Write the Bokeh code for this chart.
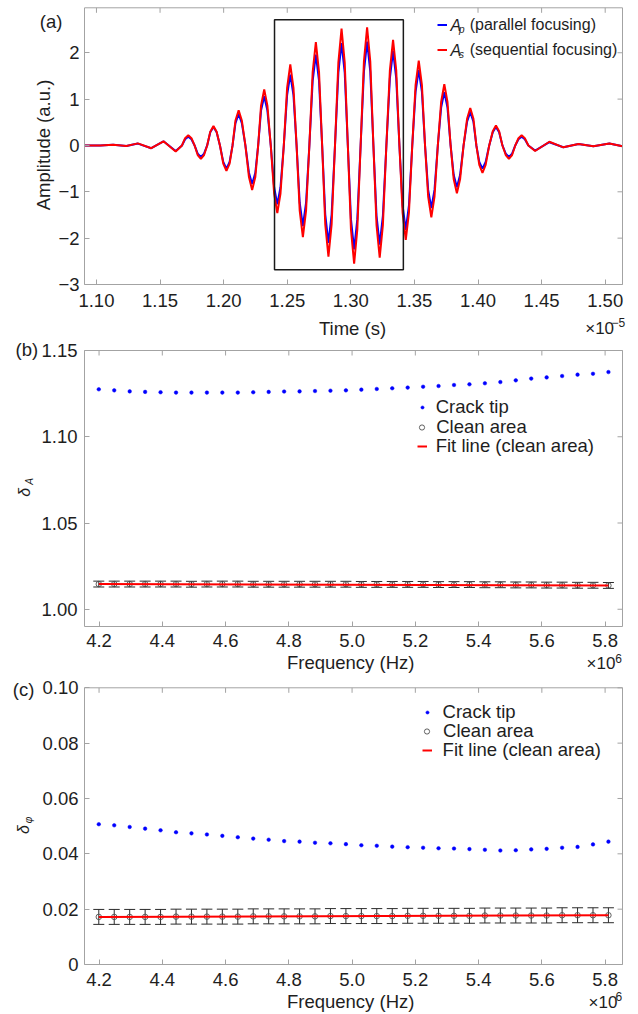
import numpy as np
from bokeh.plotting import figure
from bokeh.models import (Range1d, FixedTicker, LinearAxis, Label, BoxAnnotation,
                          Whisker, TeeHead, ColumnDataSource, Legend, LegendItem,
                          PrintfTickFormatter)
from bokeh.embed import file_html
from bokeh.resources import INLINE

FONT = "Liberation Sans"
TXT = "#1e1e1e"
FRAME = "#a3a3a3"
BLUE = "#0000ff"
RED = "#ff0000"

# ---------------- panel (a): waveforms (time in units of 1e-5 s) ----------------
time_e5 = [1.0906, 1.1030, 1.1131, 1.1235, 1.1326, 1.1431, 1.1527, 1.1623, 1.16725,
           1.1697, 1.1722, 1.1747, 1.17715, 1.1796, 1.1821, 1.1846, 1.18705,
           1.1895, 1.1920, 1.1945, 1.1971, 1.1997, 1.2022, 1.2047, 1.2070,
           1.2093, 1.2118, 1.2143, 1.2171, 1.2199, 1.2224, 1.2249, 1.22715,
           1.2294, 1.2319, 1.2344, 1.23705, 1.2397, 1.2422, 1.2447, 1.2473,
           1.2499, 1.2524, 1.2549, 1.25735, 1.2598, 1.2623, 1.2648, 1.2674,
           1.2700, 1.2725, 1.2750, 1.27745, 1.2799, 1.2824, 1.2849, 1.28755,
           1.2902, 1.2927, 1.2952, 1.29765, 1.3001, 1.3026, 1.3051, 1.3077,
           1.3103, 1.3128, 1.3153, 1.31775, 1.3202, 1.3227, 1.3252, 1.32795,
           1.3307, 1.3332, 1.3357, 1.3382, 1.3407, 1.3432, 1.3457, 1.3483,
           1.3509, 1.3534, 1.3559, 1.35835, 1.3608, 1.3633, 1.3658, 1.3684,
           1.3710, 1.3735, 1.3760, 1.37845, 1.3809, 1.3834, 1.3859, 1.38865,
           1.3914, 1.3939, 1.3964, 1.3987, 1.4010, 1.4035, 1.4060, 1.4088,
           1.4116, 1.4141, 1.4166, 1.4192, 1.4218, 1.4243, 1.4268, 1.4293,
           1.4318, 1.4343, 1.4368, 1.4396,
           1.4449, 1.4561, 1.4671, 1.4790, 1.4907, 1.5033, 1.5136]
amp_parallel = [0, 0, 0.015, -0.01, 0.04, -0.06, 0.09, -0.12, 0,
                0.135, 0.19, 0.135, 0, -0.178, -0.25, -0.178, 0,
                0.284, 0.40, 0.284, 0, -0.355, -0.50, -0.355, 0,
                0.483, 0.68, 0.483, 0, -0.589, -0.83, -0.589, 0,
                0.753, 1.06, 0.753, 0, -0.902, -1.27, -0.902, 0,
                1.086, 1.53, 1.086, 0, -1.235, -1.74, -1.235, 0,
                1.392, 1.96, 1.392, 0, -1.491, -2.10, -1.491, 0,
                1.569, 2.21, 1.569, 0, -1.590, -2.24, -1.590, 0,
                1.590, 2.24, 1.590, 0, -1.519, -2.14, -1.519, 0,
                1.448, 2.04, 1.448, 0, -1.292, -1.82, -1.292, 0,
                1.157, 1.63, 1.157, 0, -0.959, -1.35, -0.959, 0,
                0.817, 1.15, 0.817, 0, -0.639, -0.90, -0.639, 0,
                0.511, 0.72, 0.511, 0, -0.355, -0.50, -0.355, 0,
                0.284, 0.40, 0.284, 0, -0.178, -0.25, -0.178, 0,
                0.135, 0.19, 0.135, 0,
                -0.11, 0.07, -0.04, 0.03, -0.015, 0.04, -0.015]
amp_sequential = [0, 0, 0.015, -0.01, 0.045, -0.06, 0.09, -0.13, 0,
                  0.156, 0.22, 0.156, 0, -0.206, -0.29, -0.206, 0,
                  0.298, 0.42, 0.298, 0, -0.390, -0.55, -0.390, 0,
                  0.540, 0.76, 0.540, 0, -0.682, -0.96, -0.682, 0,
                  0.859, 1.21, 0.859, 0, -1.037, -1.46, -1.037, 0,
                  1.243, 1.75, 1.243, 0, -1.406, -1.98, -1.406, 0,
                  1.583, 2.23, 1.583, 0, -1.704, -2.40, -1.704, 0,
                  1.789, 2.52, 1.789, 0, -1.811, -2.55, -1.811, 0,
                  1.811, 2.55, 1.811, 0, -1.718, -2.42, -1.718, 0,
                  1.619, 2.28, 1.619, 0, -1.448, -2.04, -1.448, 0,
                  1.299, 1.83, 1.299, 0, -1.101, -1.55, -1.101, 0,
                  0.937, 1.32, 0.937, 0, -0.731, -1.03, -0.731, 0,
                  0.575, 0.81, 0.575, 0, -0.419, -0.59, -0.419, 0,
                  0.305, 0.43, 0.305, 0, -0.206, -0.29, -0.206, 0,
                  0.156, 0.22, 0.156, 0,
                  -0.12, 0.08, -0.04, 0.03, -0.015, 0.04, -0.015]
time_ticks = [1.10, 1.15, 1.20, 1.25, 1.30, 1.35, 1.40, 1.45, 1.50]
amp_ticks = [-3, -2, -1, 0, 1, 2]
amp_tick_labels = ["\u22123", "\u22122", "\u22121", "0", "1", "2"]
box_time = [1.2400, 1.3413]
box_amp = [-2.68, 2.71]

# ---------------- panels (b), (c): frequency in units of 1e6 Hz ----------------
freq_e6 = [4.1992, 4.2480, 4.2969, 4.3457, 4.3945, 4.4434, 4.4922, 4.5410, 4.5898, 4.6387,
           4.6875, 4.7363, 4.7852, 4.8340, 4.8828, 4.9316, 4.9805, 5.0293, 5.0781, 5.1270,
           5.1758, 5.2246, 5.2734, 5.3223, 5.3711, 5.4199, 5.4688, 5.5176, 5.5664, 5.6152,
           5.6641, 5.7129, 5.7617, 5.8105]
crack_A = [1.1275, 1.1269, 1.1263, 1.1260, 1.1258, 1.1256, 1.1256, 1.1256, 1.1256, 1.1256,
           1.1258, 1.1260, 1.1262, 1.1263, 1.1265, 1.1267, 1.1269, 1.1273, 1.1277, 1.1281,
           1.1285, 1.1290, 1.1294, 1.1300, 1.1304, 1.1310, 1.1317, 1.1327, 1.1337, 1.1344,
           1.1352, 1.1360, 1.1365, 1.1375]
clean_A = [1.0146, 1.0146, 1.0146, 1.0146, 1.0146, 1.0146, 1.0145, 1.0146, 1.0146, 1.0146,
           1.0145, 1.0145, 1.0145, 1.0145, 1.0145, 1.0145, 1.0145, 1.0144, 1.0144, 1.0144,
           1.0144, 1.0144, 1.0143, 1.0143, 1.0143, 1.0142, 1.0142, 1.0141, 1.0141, 1.0140,
           1.0140, 1.0139, 1.0139, 1.0138]
clean_A_err = 0.0017
fit_A = [1.0146, 1.0138]

crack_phi = [0.0507, 0.0503, 0.0497, 0.0491, 0.0485, 0.0478, 0.0474, 0.0470, 0.0465, 0.0460,
             0.0455, 0.0451, 0.0446, 0.0444, 0.0440, 0.0438, 0.0435, 0.0431, 0.0429, 0.0426,
             0.0424, 0.0422, 0.0420, 0.0419, 0.0417, 0.04145, 0.0412, 0.0413, 0.0416, 0.0418,
             0.0422, 0.0425, 0.0434, 0.0444]
clean_phi = [0.0172, 0.0172, 0.0172, 0.0172, 0.0172, 0.0173, 0.0173, 0.0173, 0.0173, 0.0173,
             0.0174, 0.0174, 0.0174, 0.0174, 0.0174, 0.0175, 0.0175, 0.0175, 0.0175, 0.0175,
             0.0176, 0.0176, 0.0176, 0.0176, 0.0176, 0.0177, 0.0177, 0.0177, 0.0177, 0.0177,
             0.0178, 0.0178, 0.0178, 0.0178]
clean_phi_err = 0.0027
fit_phi = [0.0172, 0.0178]

freq_ticks = [4.2, 4.4, 4.6, 4.8, 5.0, 5.2, 5.4, 5.6, 5.8]
dA_ticks = [1.00, 1.05, 1.10, 1.15]
dA_tick_labels = ["1.00", "1.05", "1.10", "1.15"]
dphi_ticks = [0, 0.02, 0.04, 0.06, 0.08, 0.10]
dphi_tick_labels = ["0", "0.02", "0.04", "0.06", "0.08", "0.10"]

# ---------------- layout (canvas pixels) ----------------
W, H = 638, 1012
BOX_L, BOX_R = 84, 622
LIM_T = (1.0906, 1.5136)
LIM_F = (4.154, 5.855)
LIM_A = (-3.0, 2.97)
LIM_B = (0.990, 1.15)
LIM_C = (0.0, 0.10)
PX_A = (7.3, 284.0)     # top, bottom
PX_B = (350.0, 626.0)
PX_C = (687.3, 964.0)


def axis_range(p0, p1, v0, v1, n0, n1):
    k = (v1 - v0) / (p1 - p0)
    return Range1d(start=v0 + (n0 - p0) * k, end=v0 + (n1 - p0) * k)


p = figure(width=W, height=H, x_range=Range1d(0, W), y_range=Range1d(H, 0),
           x_axis_type=None, y_axis_type=None, output_backend="svg",
           toolbar_location=None, min_border=0)
p.outline_line_color = None
p.background_fill_color = "white"
p.border_fill_color = "white"
p.extra_x_ranges = {"t": axis_range(BOX_L, BOX_R, LIM_T[0], LIM_T[1], 0, W),
                    "f": axis_range(BOX_L, BOX_R, LIM_F[0], LIM_F[1], 0, W)}
p.extra_y_ranges = {"ya": axis_range(PX_A[1], PX_A[0], LIM_A[0], LIM_A[1], H, 0),
                    "yb": axis_range(PX_B[1], PX_B[0], LIM_B[0], LIM_B[1], H, 0),
                    "yc": axis_range(PX_C[1], PX_C[0], LIM_C[0], LIM_C[1], H, 0)}


def style_axis(ax, standoff):
    ax.axis_line_color = None
    ax.major_tick_line_color = FRAME
    ax.major_tick_in = 5
    ax.major_tick_out = 0
    ax.minor_tick_line_color = None
    ax.major_label_text_font = FONT
    ax.major_label_text_font_size = "18.5px"
    ax.major_label_text_color = TXT
    ax.major_label_standoff = standoff


def panel(xn, yn, xlim, ylim, px, xticks, xfmt, yticks, ylabels, xstand, ystand):
    p.add_layout(BoxAnnotation(left=xlim[0], right=xlim[1], bottom=ylim[0], top=ylim[1],
                               x_range_name=xn, y_range_name=yn, fill_alpha=0,
                               line_color=FRAME, line_alpha=1, line_width=1))
    ax = LinearAxis(x_range_name=xn, y_range_name=yn, fixed_location=ylim[0],
                    bounds=xlim, ticker=FixedTicker(ticks=xticks),
                    formatter=PrintfTickFormatter(format=xfmt))
    style_axis(ax, xstand)
    p.add_layout(ax, "below")
    ay = LinearAxis(x_range_name=xn, y_range_name=yn, fixed_location=xlim[0],
                    bounds=ylim, ticker=FixedTicker(ticks=yticks))
    ay.major_label_overrides = dict(zip(yticks, ylabels))
    style_axis(ay, ystand)
    p.add_layout(ay, "left")
    # inward ticks on the top and right edges of the box
    kx = (xlim[1] - xlim[0]) / (BOX_R - BOX_L)
    ky = (ylim[1] - ylim[0]) / (px[1] - px[0])
    p.segment(x0=xticks, y0=[ylim[1]] * len(xticks), x1=xticks,
              y1=[ylim[1] - 5 * ky] * len(xticks), x_range_name=xn, y_range_name=yn,
              line_color=FRAME, line_width=1)
    p.segment(x0=[xlim[1]] * len(yticks), y0=yticks, x1=[xlim[1] - 5 * kx] * len(yticks),
              y1=yticks, x_range_name=xn, y_range_name=yn, line_color=FRAME, line_width=1)


def txt(text, x, y, size="18.5px", align="left", style="normal", angle=0.0):
    p.add_layout(Label(x=x, y=y, text=text, text_font=FONT, text_font_size=size,
                       text_color=TXT, text_align=align, text_baseline="middle",
                       text_font_style=style, angle=angle))


def one_legend(label, renderer, glyph_w, cx, cy, text_x, row_h=22, size="18.5px"):
    x = cx - glyph_w / 2
    leg = Legend(items=[LegendItem(label=label, renderers=[renderer])],
                 location=(x, H - (cy + row_h / 2)), glyph_width=glyph_w,
                 glyph_height=row_h, label_height=row_h,
                 label_standoff=int(round(text_x - x - glyph_w)),
                 padding=0, spacing=0, margin=0, label_text_font=FONT,
                 label_text_font_size=size, label_text_color=TXT,
                 border_line_color=None, background_fill_alpha=0)
    p.add_layout(leg)


# ================= panel (a) =================
panel("t", "ya", LIM_T, LIM_A, PX_A, time_ticks, "%.2f", amp_ticks, amp_tick_labels, 9, 5)
rp = p.line(time_e5, amp_parallel, x_range_name="t", y_range_name="ya",
            line_color=BLUE, line_width=2)
rs = p.line(time_e5, amp_sequential, x_range_name="t", y_range_name="ya",
            line_color=RED, line_width=2)
p.add_layout(BoxAnnotation(left=box_time[0], right=box_time[1], bottom=box_amp[0],
                           top=box_amp[1], x_range_name="t", y_range_name="ya",
                           fill_alpha=0, line_color="#1a1a1a", line_alpha=1, line_width=1.5))
one_legend("(parallel focusing)", rp, 10, 441.7, 24.7, 469.5, row_h=25, size="16px")
one_legend("(sequential focusing)", rs, 10, 441.7, 49.7, 469.5, row_h=25, size="16px")
for cy, sub in ((24.7, "p"), (49.7, "s")):
    txt("A", 450, cy, size="16px", style="italic")
    txt(sub, 458.5, cy + 4, size="10px", style="italic")
txt("(a)", 39.3, 20.8)
txt("Amplitude (a.u.)", 43.3, 144.5, align="center", angle=np.pi / 2)
txt("Time (s)", 352, 328.3, align="center")
txt("\u00d710", 584.7, 328, size="17px")
txt("\u22125", 611, 321.5, size="12px")


# ================= panels (b), (c) =================
def freq_panel(yn, ylim, px, crack, clean, err, fit, yticks, ylabels, xstand, ystand,
               leg_cx, leg_tx, leg_rows):
    panel("f", yn, LIM_F, ylim, px, freq_ticks, "%.1f", yticks, ylabels, xstand, ystand)
    src = ColumnDataSource(dict(f=freq_e6, clean=clean,
                                lo=np.array(clean) - err, hi=np.array(clean) + err))
    hd = dict(size=11, line_color="#2b2b2b", line_width=1)
    p.add_layout(Whisker(source=src, base="f", lower="lo", upper="hi",
                         x_range_name="f", y_range_name=yn,
                         line_color="#2b2b2b", line_width=1,
                         lower_head=TeeHead(**hd), upper_head=TeeHead(**hd)))
    rc = p.scatter(freq_e6, crack, x_range_name="f", y_range_name=yn, marker="circle",
                   size=3.6, fill_color=BLUE, line_color=BLUE, line_width=0.5)
    rcl = p.scatter("f", "clean", source=src, x_range_name="f", y_range_name=yn,
                    marker="circle", size=5.5, fill_color=None, line_color="#505050",
                    line_width=0.9)
    rf = p.line([freq_e6[0], freq_e6[-1]], fit, x_range_name="f", y_range_name=yn,
                line_color=RED, line_width=2)
    one_legend("Crack tip", rc, 8, leg_cx, leg_rows[0], leg_tx)
    one_legend("Clean area", rcl, 13, leg_cx, leg_rows[1], leg_tx)
    one_legend("Fit line (clean area)", rf, 10, leg_cx, leg_rows[2], leg_tx)


freq_panel("yb", LIM_B, PX_B, crack_A, clean_A, clean_A_err, fit_A, dA_ticks,
           dA_tick_labels, 7, 7, 421.7, 436, (407.3, 426.7, 445.7))
txt("(b)", 15, 349)
txt("\u03b4", 24.3, 491.7, size="16px", align="center", style="italic", angle=np.pi / 2)
txt("A", 28.5, 481, size="10px", align="center", style="italic", angle=np.pi / 2)
txt("Frequency (Hz)", 350.2, 661.7, align="center")
txt("\u00d710", 586, 663.3, size="17px")
txt("6", 614.7, 657.5, size="12px")

freq_panel("yc", LIM_C, PX_C, crack_phi, clean_phi, clean_phi_err, fit_phi, dphi_ticks,
           dphi_tick_labels, 8, 6, 426.6, 442.9, (711.7, 731.0, 750.0))
txt("(c)", 12.3, 689)
txt("\u03b4", 23, 829, size="16px", align="center", style="italic", angle=np.pi / 2)
txt("\u03c6", 27.5, 819.5, size="10px", align="center", style="italic", angle=np.pi / 2)
txt("Frequency (Hz)", 350.2, 1001, align="center")
txt("\u00d710", 588, 1001.5, size="17px")
txt("6", 615, 995.5, size="12px")

open("out.html", "w").write(file_html(p, INLINE))
